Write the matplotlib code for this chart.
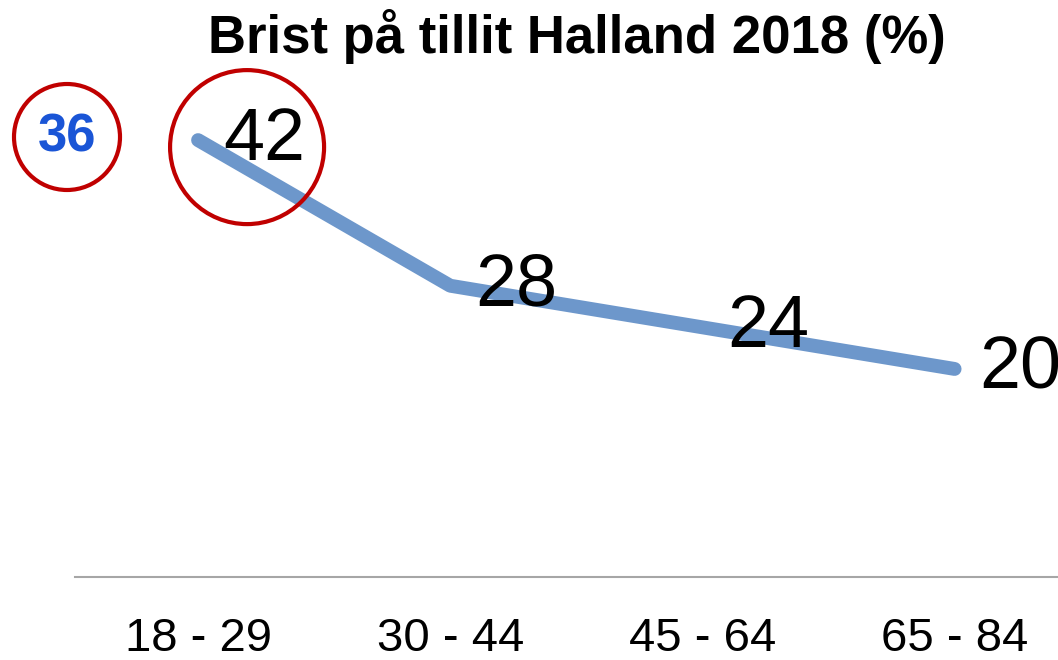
import matplotlib
matplotlib.use("Agg")
import matplotlib.pyplot as plt
from matplotlib import font_manager
from matplotlib.patches import Circle
from matplotlib.transforms import IdentityTransform

age_groups = ["18 - 29", "30 - 44", "45 - 64", "65 - 84"]
share = [42, 28, 24, 20]
compare_value = 36
title = "Brist på tillit Halland 2018 (%)"

names = {f.name for f in font_manager.fontManager.ttflist}
narrow = "Liberation Sans Narrow" if "Liberation Sans Narrow" in names else "Liberation Sans"

fig = plt.figure(figsize=(10.58, 6.6), dpi=100)
ax = fig.add_axes([0.0709, 0.1258, 0.9291, 0.788])

x = list(range(len(age_groups)))
ax.plot(x, share, color="#6d97cb", lw=10, solid_capstyle="round", solid_joinstyle="round")
for xi, v in zip(x, share):
    ax.annotate(str(v), (xi, v), xytext=(18, 0), textcoords="offset points",
                ha="left", va="center", fontsize=53, family=narrow, color="black")

ax.set_xlim(-0.488, 3.41)
ax.set_ylim(0, 50)
ax.set_xticks(x)
ax.set_xticklabels(age_groups, fontsize=34, family=narrow)
ax.tick_params(axis="x", length=0, pad=29)
ax.set_yticks([])
for s in ["top", "right", "left"]:
    ax.spines[s].set_visible(False)
ax.spines["bottom"].set_color("#a6a6a6")
ax.spines["bottom"].set_linewidth(1.5)

fig.text(0.545, 0.945, title, ha="center", va="center", fontsize=38,
         fontweight="bold", family=narrow)

# highlight circles (pixel coordinates, origin bottom-left)
H = 660
px, py = ax.transData.transform((0, share[0]))
fig.patches.append(Circle((px + 49, py - 7), 77, fill=False, ec="#c00000", lw=3,
                          transform=IdentityTransform(), figure=fig))
fig.patches.append(Circle((67, H - 137), 53, fill=False, ec="#c00000", lw=3,
                          transform=IdentityTransform(), figure=fig))
fig.text(67 / 1058, 1 - 137 / H, str(compare_value), ha="center", va="center",
         fontsize=38, fontweight="bold", color="#1a55d6", family="Liberation Sans")

fig.savefig("out.png", dpi=100)
